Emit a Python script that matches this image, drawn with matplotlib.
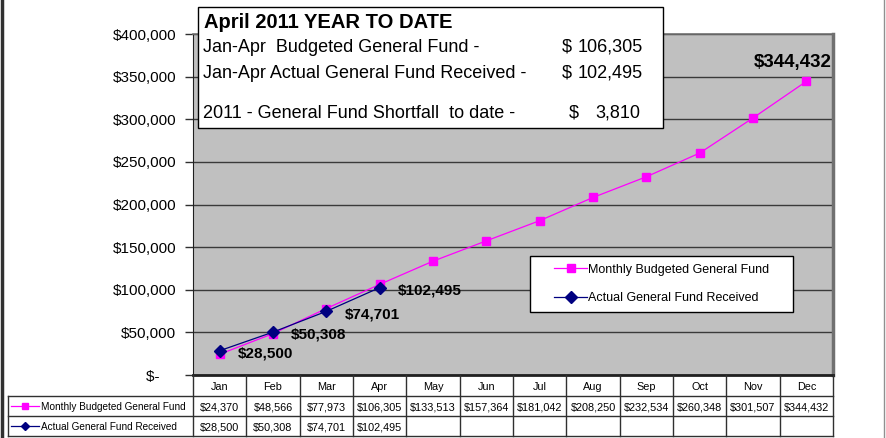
import matplotlib
matplotlib.use('Agg')
import matplotlib.pyplot as plt
from matplotlib.lines import Line2D
from matplotlib.patches import Rectangle
from matplotlib.ticker import FuncFormatter, MultipleLocator

plt.rcParams['font.family'] = ['Liberation Sans', 'DejaVu Sans']

months = ['Jan', 'Feb', 'Mar', 'Apr', 'May', 'Jun', 'Jul', 'Aug', 'Sep', 'Oct', 'Nov', 'Dec']
budgeted = [24370, 48566, 77973, 106305, 133513, 157364, 181042, 208250, 232534, 260348, 301507, 344432]
actual = [28500, 50308, 74701, 102495]
series_names = ['Monthly Budgeted General Fund', 'Actual General Fund Received']

box_title = 'April 2011 YEAR TO DATE'
box_rows = [('Jan-Apr  Budgeted General Fund -', '$', '106,305'),
            ('Jan-Apr Actual General Fund Received -', '$', '102,495'),
            ('2011 - General Fund Shortfall  to date -', '$', '3,810')]

W, H = 886, 438
BUDGET_C = '#FF00FF'
ACTUAL_C = '#000080'
EDGE = '#303030'


def px(x, y):
    # pixel coords (from top-left) -> figure fraction
    return x / W, 1 - y / H


def hline(x0, x1, y, **kw):
    a, b = px(x0, y)
    c, _ = px(x1, y)
    fig.add_artist(Line2D([a, c], [b, b], **kw))


def vline(x, y0, y1, **kw):
    a, b = px(x, y0)
    _, d = px(x, y1)
    fig.add_artist(Line2D([a, a], [b, d], **kw))


fig = plt.figure(figsize=(W / 100, H / 100), dpi=100)
fig.patch.set_facecolor('white')

# plot area
ax_l, ax_r, ax_t, ax_b = 193, 833, 34, 375
ax = fig.add_axes([ax_l / W, 1 - ax_b / H, (ax_r - ax_l) / W, (ax_b - ax_t) / H])
ax.set_facecolor('#C0C0C0')

x = list(range(len(months)))
ax.plot(x, budgeted, color=BUDGET_C, lw=0.9, marker='s', ms=6.2,
        mfc=BUDGET_C, mec=BUDGET_C, label=series_names[0], zorder=3)
ax.plot(x[:len(actual)], actual, color=ACTUAL_C, lw=0.9, marker='D', ms=6.2,
        mfc=ACTUAL_C, mec=ACTUAL_C, label=series_names[1], zorder=4)

ax.set_xlim(-0.5, len(months) - 0.5)
ax.set_ylim(0, 400000)
ax.yaxis.set_major_locator(MultipleLocator(50000))
ax.yaxis.set_major_formatter(FuncFormatter(
    lambda v, p: '$-    ' if v == 0 else '${:,.0f}'.format(v)))
ax.tick_params(axis='y', direction='out', length=6, width=1, color=EDGE,
               labelsize=11, pad=6)
ax.set_xticks([])
ax.grid(axis='y', color='#3A3A3A', lw=1)
ax.set_axisbelow(True)
ax.spines['left'].set_color('#202020')
ax.spines['bottom'].set_color('#202020')
ax.spines['bottom'].set_linewidth(2)
ax.spines['top'].set_color('#707070')
ax.spines['top'].set_linewidth(1.2)
ax.spines['right'].set_color('#707070')
ax.spines['right'].set_linewidth(2.5)

# data labels
for i, v in enumerate(actual):
    ax.annotate('${:,.0f}'.format(v), (i, v), xytext=(13, -2),
                textcoords='offset points', ha='left', va='center',
                fontsize=11, fontweight='bold', zorder=6)
ax.annotate('${:,.0f}'.format(budgeted[-1]), (len(budgeted) - 1, budgeted[-1]),
            xytext=(-10, 13.5), textcoords='offset points', ha='center', va='center',
            fontsize=13.5, fontweight='bold', zorder=6)

# legend: frame drawn separately so the entries sit centred in it
leg_box = (0.527, 0.185, 0.411, 0.164)
ax.add_patch(Rectangle(leg_box[:2], leg_box[2], leg_box[3], transform=ax.transAxes,
                       facecolor='white', edgecolor='black', lw=1, zorder=7))
leg = ax.legend(loc='center', bbox_to_anchor=leg_box, fontsize=9, frameon=False,
                handlelength=2.6, labelspacing=1.3, borderpad=0,
                handletextpad=0.1, borderaxespad=0)
leg.set_zorder(8)

# data table under the plot, drawn cell by cell
col_w = (ax_r - ax_l) / len(months)
rows_y = [375, 396, 416, 436]
label_x0 = 8
cell_text = [['${:,.0f}'.format(v) for v in budgeted],
             ['${:,.0f}'.format(v) for v in actual] + [''] * (len(months) - len(actual))]

for k in range(len(months) + 1):
    vline(ax_l + k * col_w, rows_y[0], rows_y[-1], color=EDGE, lw=1, zorder=10)
vline(label_x0, rows_y[1], rows_y[-1], color=EDGE, lw=1, zorder=10)
for yy in rows_y[1:]:
    hline(label_x0, ax_r, yy, color=EDGE, lw=1, zorder=10)

for k, m in enumerate(months):
    cx = ax_l + (k + 0.5) * col_w
    fig.text(*px(cx, (rows_y[0] + rows_y[1]) / 2 + 1), m, fontsize=7.8,
             ha='center', va='center')
    for r, row in enumerate(cell_text):
        fig.text(*px(cx, (rows_y[r + 1] + rows_y[r + 2]) / 2 + 1), row[k],
                 fontsize=7.8, ha='center', va='center')

for r, (name, col, mk, ms) in enumerate([(series_names[0], BUDGET_C, 's', 5),
                                         (series_names[1], ACTUAL_C, 'D', 4.5)]):
    ry = (rows_y[r + 1] + rows_y[r + 2]) / 2
    x0, y0 = px(11, ry)
    x1, _ = px(39, ry)
    xm, _ = px(25, ry)
    fig.add_artist(Line2D([x0, x1], [y0, y0], color=col, lw=0.9, zorder=10))
    fig.add_artist(Line2D([xm], [y0], marker=mk, ms=ms, color=col, zorder=11))
    fig.text(*px(41, ry + 1), name, fontsize=7.2, ha='left', va='center')

# year-to-date box
bx, by = px(198, 128)
bw, bh = 465 / W, 121 / H
fig.add_artist(Rectangle((bx, by), bw, bh, transform=fig.transFigure,
                         facecolor='white', edgecolor='black', lw=1, zorder=8))
fig.text(*px(204, 22), box_title, fontsize=14.5, fontweight='bold', va='center',
         ha='left', zorder=9)
for (label, sign, amount), yy, sx in zip(box_rows, [47, 73, 113], [562, 562, 569]):
    fig.text(*px(203, yy), label, fontsize=13, va='center', ha='left', zorder=9)
    fig.text(*px(sx, yy), sign, fontsize=13, va='center', ha='left', zorder=9)
    fig.text(*px(643 if sx == 562 else 640, yy), amount, fontsize=13,
             va='center', ha='right', zorder=9)

# outer page borders
vline(2, 0, H, color='#303030', lw=2.5)
vline(884, 0, H, color='#909090', lw=1)

fig.savefig('out.png', dpi=100)
